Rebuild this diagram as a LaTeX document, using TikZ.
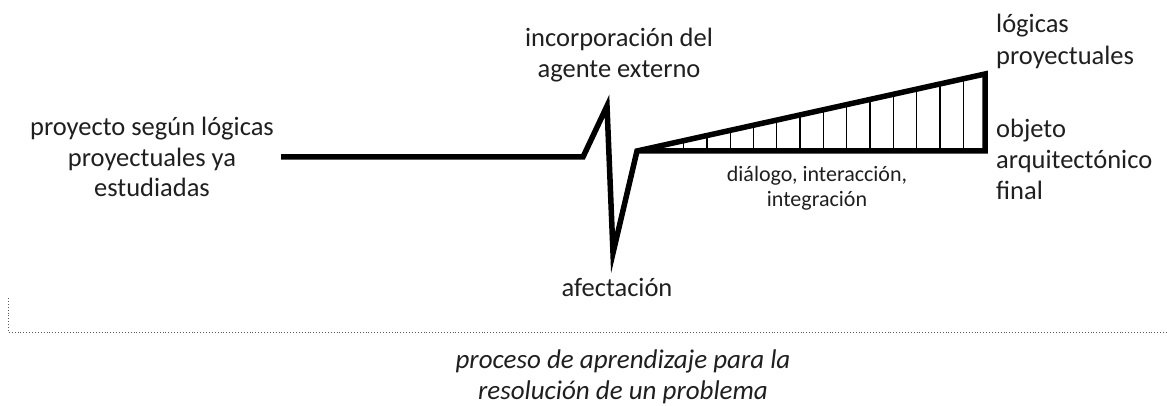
\documentclass[tikz,border=0pt]{standalone}
\usepackage{fontspec}
\setmainfont{Carlito}
\begin{document}
\begin{tikzpicture}[x=1pt,y=-1pt,
  lbl/.style={text=black!88, inner sep=0pt, align=center, font=\fontsize{26.5}{30.5}\selectfont},
  lbll/.style={lbl, align=left, anchor=west},
  small/.style={text=black!88, inner sep=0pt, align=center, font=\fontsize{22}{25}\selectfont},
  thick line/.style={line width=5.5pt, line join=miter, black},
  hatch/.style={line width=1.3pt, black}]
\useasboundingbox (0,0) rectangle (1167,406);
% coordinates
\coordinate (s) at (281,157);
\coordinate (k1) at (583,157);
\coordinate (up) at (607,106);
\coordinate (dn) at (613,253);
\coordinate (b0) at (637,151);
\coordinate (tr) at (985,74);
\coordinate (br) at (985,151);
% hatch
\foreach \i in {1,...,14}{
  \pgfmathsetmacro{\xx}{637+23.3*\i}
  \pgfmathsetmacro{\yy}{151-(0.221*(\xx-637))}
  \draw[hatch] (\xx,151) -- (\xx,\yy);
}
\draw[thick line] (s) -- (k1) -- (up) -- (dn) -- (b0) -- (tr) -- (br) -- (b0);
% dotted frame
\coordinate (dl) at (8,298);
\coordinate (dc) at (8,332);
\coordinate (dr) at (1167,332);
\draw[black!65, line width=0.9pt, dotted] (dl) -- (dc) -- (dr);
% texts
\node[lbl] (t1) at (152,157) {proyecto según lógicas\\proyectuales ya\\estudiadas};
\node[lbl] (t2) at (619,55) {incorporación del\\agente externo};
\node[lbl] (t3) at (617,287) {afectación};
\node[small] (t4) at (817,188) {diálogo, interacción,\\integración};
\node[lbll, font=\fontsize{26.5}{32}\selectfont] (t5) at (996,41) {lógicas\\proyectuales};
\node[lbll, font=\fontsize{26.5}{31}\selectfont] (t6) at (996,159) {objeto\\arquitectónico\\final};
\node[lbl, font=\fontsize{27}{30.5}\selectfont\itshape] (t7) at (623,377) {proceso de aprendizaje para la\\resolución de un problema};
\end{tikzpicture}
\end{document}
